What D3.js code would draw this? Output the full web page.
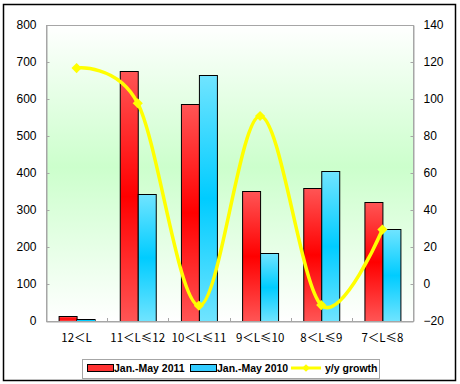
<!DOCTYPE html>
<html>
<head>
<meta charset="utf-8">
<script src="https://cdn.jsdelivr.net/npm/d3@7"></script>
<style>
  body { margin: 0; background: #fff; }
  svg { display: block; }
</style>
</head>
<body>
<svg id="chart" width="460" height="384"></svg>
<script>
// chart data
const categories = ["12＜L", "11＜L≤12", "10＜L≤11", "9＜L≤10", "8＜L≤9", "7＜L≤8"];
const sales2011 = [13, 676, 586, 351, 359, 321];
const sales2010 = [6, 342, 664, 184, 405, 248];
const growth = [116.7, 97.7, -11.7, 90.8, -11.4, 29.4];
const leftTicks = [0, 100, 200, 300, 400, 500, 600, 700, 800];
const rightTicks = [-20, 0, 20, 40, 60, 80, 100, 120, 140];
const seriesNames = ["Jan.-May 2011", "Jan.-May 2010", "y/y growth"];

const svg = d3.select("#chart");
const plot = { left: 46, right: 413, top: 25, bottom: 321 };

const defs = svg.append("defs");

// plot background: white -> light green -> white
const bg = defs.append("linearGradient").attr("id", "bgGrad")
  .attr("x1", 0).attr("y1", 0).attr("x2", 0).attr("y2", 1);
bg.append("stop").attr("offset", "0%").attr("stop-color", "#ffffff");
bg.append("stop").attr("offset", "48%").attr("stop-color", "#ccffcc");
bg.append("stop").attr("offset", "100%").attr("stop-color", "#ffffff");

function barGradient(id, edge, mid) {
  const g = defs.append("linearGradient").attr("id", id)
    .attr("x1", 0).attr("y1", 0).attr("x2", 0).attr("y2", 1);
  g.append("stop").attr("offset", "0%").attr("stop-color", edge);
  g.append("stop").attr("offset", "50%").attr("stop-color", mid);
  g.append("stop").attr("offset", "100%").attr("stop-color", edge);
}
barGradient("redGrad", "#ff5555", "#ff0000");
barGradient("blueGrad", "#70e4ff", "#00ccff");

// outer frame
svg.append("rect")
  .attr("x", 3.5).attr("y", 4.5).attr("width", 452).attr("height", 376)
  .attr("fill", "#fff").attr("stroke", "#000").attr("stroke-width", 1.5);

svg.append("rect")
  .attr("x", plot.left).attr("y", plot.top)
  .attr("width", plot.right - plot.left).attr("height", plot.bottom - plot.top)
  .attr("fill", "url(#bgGrad)");

// scales
const x = d3.scaleBand().domain(categories).range([plot.left, plot.right]);
const xSub = d3.scaleBand().domain([0, 1]).range([0, x.bandwidth()]).paddingOuter(0.7);
const yL = d3.scaleLinear().domain([0, 800]).range([plot.bottom, plot.top]);
const yR = d3.scaleLinear().domain([-20, 140]).range([plot.bottom, plot.top]);

// bars
const series = [
  { values: sales2011, fill: "url(#redGrad)" },
  { values: sales2010, fill: "url(#blueGrad)" }
];
series.forEach((s, si) => {
  svg.append("g").selectAll("rect")
    .data(s.values)
    .join("rect")
    .attr("x", (d, i) => x(categories[i]) + xSub(si) + 0.5)
    .attr("y", d => Math.round(yL(d)) + 0.5)
    .attr("width", xSub.bandwidth())
    .attr("height", d => plot.bottom - Math.round(yL(d)))
    .attr("fill", s.fill)
    .attr("stroke", "#000")
    .attr("stroke-width", 1);
});

// plot border
svg.append("rect")
  .attr("x", plot.left + 0.5).attr("y", plot.top + 0.5)
  .attr("width", plot.right - plot.left).attr("height", plot.bottom - plot.top)
  .attr("fill", "none").attr("stroke", "#a6a6a6").attr("stroke-width", 1);

// axes
const fontFamily = "Arial, 'Liberation Sans', sans-serif";
const leftAxis = svg.append("g")
  .attr("transform", `translate(${plot.left + 0.5},0)`)
  .call(d3.axisLeft(yL).tickValues(leftTicks).tickSizeInner(-3).tickSizeOuter(0).tickPadding(10));
const rightAxis = svg.append("g")
  .attr("transform", `translate(${plot.right + 0.5},0)`)
  .call(d3.axisRight(yR).tickValues(rightTicks).tickSizeInner(-3).tickSizeOuter(0).tickPadding(10));
const bottomAxis = svg.append("g")
  .attr("transform", `translate(0,${plot.bottom + 0.5})`)
  .call(d3.axisBottom(x).tickSize(0).tickPadding(12));

[leftAxis, rightAxis, bottomAxis].forEach(a => {
  a.select(".domain").attr("stroke", "#a6a6a6");
  a.selectAll(".tick line").attr("stroke", "#a6a6a6");
  a.selectAll("text").attr("fill", "#000").attr("font-family", fontFamily).attr("font-size", 12);
});
bottomAxis.selectAll("text").attr("font-family", "'Noto Sans CJK SC', sans-serif").attr("font-size", 11.5);

// category separators (inside ticks)
svg.append("g").selectAll("line")
  .data(categories.slice(1))
  .join("line")
  .attr("x1", d => Math.round(x(d)) + 0.5).attr("x2", d => Math.round(x(d)) + 0.5)
  .attr("y1", plot.bottom).attr("y2", plot.bottom - 3)
  .attr("stroke", "#a6a6a6");

// growth line
const cx = (d, i) => x(categories[i]) + x.bandwidth() / 2;
const line = d3.line()
  .x(cx)
  .y(d => yR(d))
  .curve(d3.curveCardinal.tension(0));
svg.append("path")
  .datum(growth)
  .attr("d", line)
  .attr("fill", "none")
  .attr("stroke", "#ffff00")
  .attr("stroke-width", 3.5);

const diamond = d3.symbol().type(d3.symbolSquare).size(52);
svg.append("g").selectAll("path")
  .data(growth)
  .join("path")
  .attr("d", diamond)
  .attr("transform", (d, i) => `translate(${cx(d, i)},${yR(d)}) rotate(45)`)
  .attr("fill", "#ffff00");

// legend
const legend = svg.append("g");
legend.append("rect")
  .attr("x", 82.5).attr("y", 359.5).attr("width", 297).attr("height", 19)
  .attr("fill", "#fff").attr("stroke", "#a6a6a6");

const legendItems = [
  { x: 87, kind: "bar", fill: "url(#redGrad)", solid: "#ff3333" },
  { x: 190, kind: "bar", fill: "url(#blueGrad)", solid: "#33ccff" },
  { x: 291, kind: "line" }
];
legendItems.forEach((it, i) => {
  if (it.kind === "bar") {
    legend.append("rect")
      .attr("x", it.x + 0.5).attr("y", 364.5).attr("width", 26).attr("height", 7)
      .attr("fill", it.solid).attr("stroke", "#000");
    legend.append("text")
      .attr("x", it.x + 27).attr("y", 372)
      .attr("font-family", fontFamily).attr("font-weight", "bold").attr("font-size", 10.5)
      .attr("fill", "#000")
      .text(seriesNames[i]);
  } else {
    legend.append("line")
      .attr("x1", it.x).attr("x2", it.x + 30).attr("y1", 368).attr("y2", 368)
      .attr("stroke", "#ffff00").attr("stroke-width", 3);
    legend.append("path")
      .attr("d", d3.symbol().type(d3.symbolSquare).size(30))
      .attr("transform", `translate(${it.x + 15},368) rotate(45)`)
      .attr("fill", "#ffff00");
    legend.append("text")
      .attr("x", it.x + 34).attr("y", 372)
      .attr("font-family", fontFamily).attr("font-weight", "bold").attr("font-size", 10.5)
      .attr("fill", "#000")
      .text(seriesNames[i]);
  }
});
</script>
</body>
</html>
